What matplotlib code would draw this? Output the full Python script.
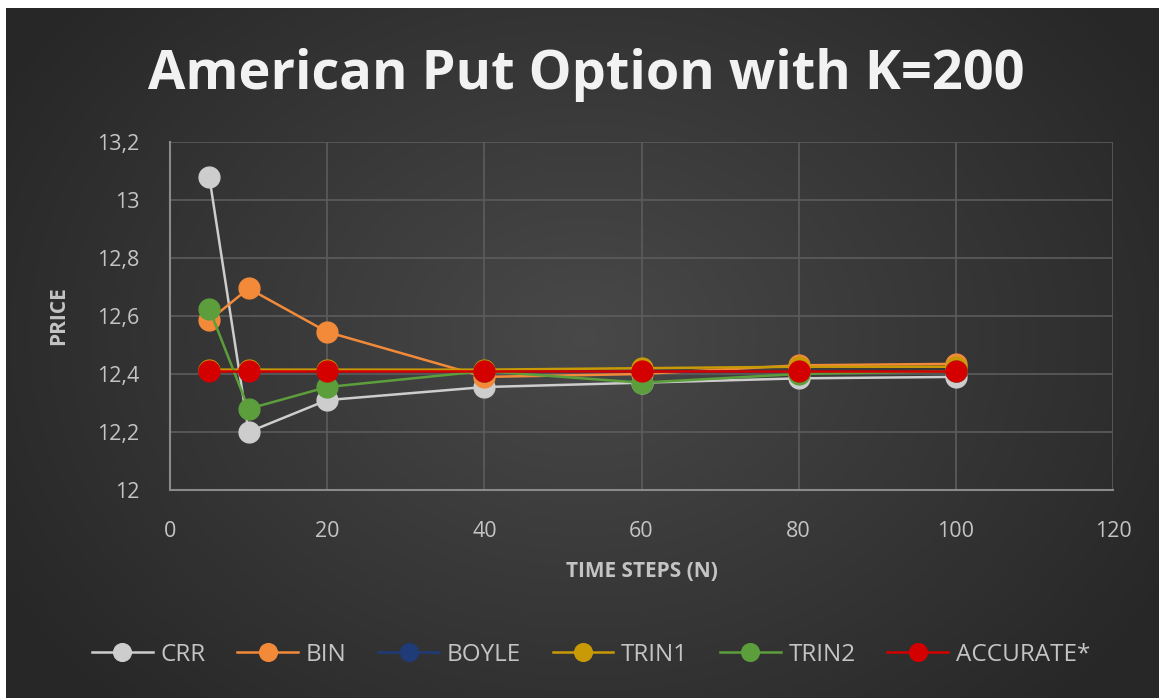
import numpy as np
import matplotlib
matplotlib.use("Agg")
import matplotlib.pyplot as plt
from matplotlib.ticker import FuncFormatter, MultipleLocator

# Daten
steps = [5, 10, 20, 40, 60, 80, 100]
crr = [13.08, 12.20, 12.31, 12.355, 12.37, 12.385, 12.39]
bin_ = [12.585, 12.695, 12.545, 12.39, 12.40, 12.43, 12.435]
boyle = [12.41, 12.41, 12.41, 12.41, 12.41, 12.41, 12.41]
trin1 = [12.415, 12.415, 12.415, 12.415, 12.42, 12.425, 12.425]
trin2 = [12.625, 12.28, 12.355, 12.41, 12.37, 12.40, 12.41]
accurate = [12.41, 12.41, 12.41, 12.41, 12.41, 12.41, 12.41]

names = ["CRR", "BIN", "BOYLE", "TRIN1", "TRIN2", "ACCURATE*"]
series = [crr, bin_, boyle, trin1, trin2, accurate]
colors = ["#cdcdcd", "#f28a3a", "#1f3b78", "#c99a06", "#5c9e3c", "#d40000"]

txt = "#c4c4c4"
plt.rcParams['font.family'] = ['Open Sans', 'DejaVu Sans']

fig = plt.figure(figsize=(11.59, 6.98), dpi=100, facecolor="white")

# Hintergrund mit radialem Verlauf (dunkelgrau)
bg = fig.add_axes([6 / 1159, 0, 1 - 6 / 1159, 1 - 8 / 698])
yy, xx = np.mgrid[0:200, 0:330]
r = np.sqrt(((xx - 165) / 190) ** 2 + ((yy - 95) / 150) ** 2)
v = 0.155 + 0.13 * np.clip(1 - r, 0, 1)
bg.imshow(np.dstack([v, v, v]), aspect="auto", interpolation="bicubic")
bg.axis("off")

ax = fig.add_axes([170 / 1159, 1 - 490 / 698, (1113 - 170) / 1159, (490 - 142) / 698])
ax.patch.set_alpha(0)

for name, vals, c in zip(names, series, colors):
    ax.plot(steps, vals, color=c, lw=1.8, marker="o", markersize=15,
            markeredgecolor=c, label=name, zorder=3)

ax.set_xlim(0, 120)
ax.set_ylim(12, 13.2)
ax.xaxis.set_major_locator(MultipleLocator(20))
ax.yaxis.set_major_locator(MultipleLocator(0.2))
fmt = FuncFormatter(lambda v, p: ("%.1f" % v).rstrip("0").rstrip(".").replace(".", ","))
ax.yaxis.set_major_formatter(fmt)
ax.xaxis.set_major_formatter(FuncFormatter(lambda v, p: "%d" % v))

ax.grid(True, color="#5c5c5c", lw=1.2, zorder=0)
for s in ["top", "right"]:
    ax.spines[s].set_visible(False)
for s in ["left", "bottom"]:
    ax.spines[s].set_color("#8a8a8a")
    ax.spines[s].set_linewidth(1.5)
ax.tick_params(length=0, colors=txt, labelsize=15.5)
ax.tick_params(axis="y", pad=22)
ax.tick_params(axis="x", pad=22)

ax.set_xlabel("TIME STEPS (N)", color=txt, fontsize=15, fontweight="bold", labelpad=14)
ax.set_ylabel("PRICE", color=txt, fontsize=15, fontweight="bold", labelpad=20)

fig.text(0.506, 1 - 75 / 698, "American Put Option with K=200", ha="center", va="center",
         color="#f2f2f2", fontsize=39, fontweight="bold")

fig.legend(loc="center", bbox_to_anchor=(0.51, 1 - 655 / 698), ncol=6, frameon=False,
           fontsize=17.5, labelcolor=txt, markerscale=0.85, handlelength=2.5,
           handletextpad=0.32, columnspacing=1.3)

fig.savefig("out.png", dpi=100, facecolor=fig.get_facecolor())
